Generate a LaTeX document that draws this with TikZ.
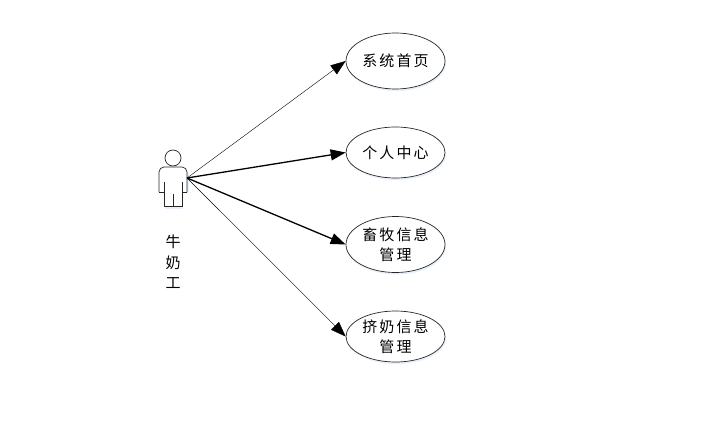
\documentclass[tikz,border=0pt]{standalone}
\usepackage{fontspec}
\newfontfamily\cjk[LetterSpace=14]{Noto Sans CJK SC}
\newfontfamily\cjkplain{Noto Sans CJK SC}
\usetikzlibrary{shapes.geometric,arrows.meta,shadows}
\definecolor{glow}{RGB}{232,240,251}
\tikzset{
  usecase/.style={ellipse,draw=black!85,line width=0.7pt,fill=white,inner sep=0pt,
    minimum width=99pt,align=center,text=black,
    font=\cjk\fontsize{15}{20}\selectfont,
    general shadow={shadow xshift=1pt,shadow yshift=-2pt,fill=glow}},
  actorline/.style={draw=black!85,line width=0.7pt},
  actorglow/.style={draw=glow,line width=2pt},
  thinlink/.style={draw=black,line width=0.4pt,-{Triangle[length=15pt,width=11pt]}},
  thicklink/.style={draw=black,line width=1.3pt,-{Triangle[length=15pt,width=11pt]}},
  actorlabel/.style={align=center,inner sep=0pt,font=\cjkplain\fontsize{15}{20.5}\selectfont}
}
\begin{document}
\begin{tikzpicture}[x=1pt,y=-1pt]
\useasboundingbox (0,0) rectangle (706,441);
\fill[white] (0,0) rectangle (706,441);
% actor
\draw[actorglow] (160,172) -- (160,193) (188,172) -- (188,193) (165,208) -- (183,208);
\draw[actorline] (173,158) circle (8pt);
\draw[actorline,fill=white,rounded corners=5pt] (159,192) -- (159,167) -- (187,167) -- (187,192);
\draw[actorline,fill=white] (159,192) -- (164,192) -- (164,206) -- (182,206) -- (182,192) -- (187,192);
\draw[actorline] (164,182) -- (164,192) (182,182) -- (182,192) (173,194) -- (173,206);
\coordinate (actor) at (187,178);
\node[actorlabel] (alabel) at (173,262) {牛\\奶\\工};
% use cases
\node[usecase,minimum height=56pt] (e1) at (395.5,61) {系统首页};
\node[usecase,minimum height=51pt] (e2) at (395.5,152.5) {个人中心};
\node[usecase,minimum height=56pt] (e3) at (395.5,244.5) {畜牧信息\\管理};
\node[usecase,minimum height=51pt] (e4) at (395.5,336.5) {挤奶信息\\管理};
% connectors
\draw[thinlink] (actor) -- (e1.west);
\draw[thicklink] (actor) -- (e2.west);
\draw[thicklink] (actor) -- (e3.west);
\draw[thinlink] (actor) -- (e4.west);
\end{tikzpicture}
\end{document}
